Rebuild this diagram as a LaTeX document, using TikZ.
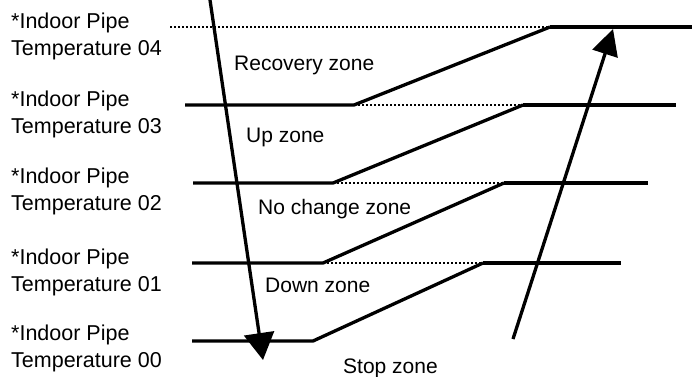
\documentclass[tikz,border=0pt]{standalone}
\usepackage{fontspec}
\setmainfont{Liberation Sans}
\usepackage{tikz}
\usetikzlibrary{arrows.meta}

\tikzset{
  level/.style={line width=3.3pt},
  dotline/.style={line width=2.4pt, dash pattern=on 2pt off 2pt},
  trend/.style={line width=3.3pt, -{Triangle[length=27pt, width=30pt]}},
  tlabel/.style={anchor=north west, inner sep=0pt, align=left, font=\fontsize{21.5}{27}\selectfont},
  zlabel/.style={anchor=base west, inner sep=0pt, font=\fontsize{21}{25}\selectfont}
}

\begin{document}
\begin{tikzpicture}[x=1pt, y=-1pt]
  \useasboundingbox (0,0) rectangle (692,376);

  % Temperature labels
  \node[tlabel] (t4) at (11, 13) {*Indoor Pipe\\Temperature 04};
  \node[tlabel] (t3) at (11, 91) {*Indoor Pipe\\Temperature 03};
  \node[tlabel] (t2) at (11, 168) {*Indoor Pipe\\Temperature 02};
  \node[tlabel] (t1) at (11, 249) {*Indoor Pipe\\Temperature 01};
  \node[tlabel] (t0) at (11, 325) {*Indoor Pipe\\Temperature 00};

  % Level 04
  \coordinate (a4) at (170, 27);
  \coordinate (k4) at (550, 27);
  \coordinate (e4) at (692, 27);
  % Level 03
  \coordinate (a3) at (185, 105);
  \coordinate (b3) at (354, 105);
  \coordinate (k3) at (523, 105);
  \coordinate (e3) at (676, 105);
  % Level 02
  \coordinate (a2) at (193, 183);
  \coordinate (b2) at (333, 183);
  \coordinate (k2) at (504, 183);
  \coordinate (e2) at (648, 183);
  % Level 01
  \coordinate (a1) at (192, 263);
  \coordinate (b1) at (323, 263);
  \coordinate (k1) at (483, 263);
  \coordinate (e1) at (621, 263);
  % Level 00
  \coordinate (a0) at (192, 341);
  \coordinate (b0) at (313, 341);

  % Dotted thresholds
  \draw[dotline] (a4) -- (k4);
  \draw[dotline] (b3) -- (k3);
  \draw[dotline] (b2) -- (k2);
  \draw[dotline] (b1) -- (k1);

  % Solid levels and ramps
  \draw[level] (k4) -- (e4);
  \draw[level] (a3) -- (b3) -- (k4);
  \draw[level] (k3) -- (e3);
  \draw[level] (a2) -- (b2) -- (k3);
  \draw[level] (k2) -- (e2);
  \draw[level] (a1) -- (b1) -- (k2);
  \draw[level] (k1) -- (e1);
  \draw[level] (a0) -- (b0) -- (k1);

  % Falling and rising arrows
  \coordinate (fall0) at (210, 0);
  \coordinate (fall1) at (263, 360);
  \coordinate (rise0) at (513, 339);
  \coordinate (rise1) at (613, 29);
  \draw[trend] (fall0) -- (fall1);
  \draw[trend, -{Triangle[length=26pt, width=26pt]}] (rise0) -- (rise1);

  % Zones
  \node[zlabel] (recovery) at (234, 70) {Recovery zone};
  \node[zlabel] (up) at (246, 142) {Up zone};
  \node[zlabel] (nochange) at (258, 214) {No change zone};
  \node[zlabel] (down) at (265, 292) {Down zone};
  \node[zlabel] (stop) at (343, 373) {Stop zone};
\end{tikzpicture}
\end{document}
